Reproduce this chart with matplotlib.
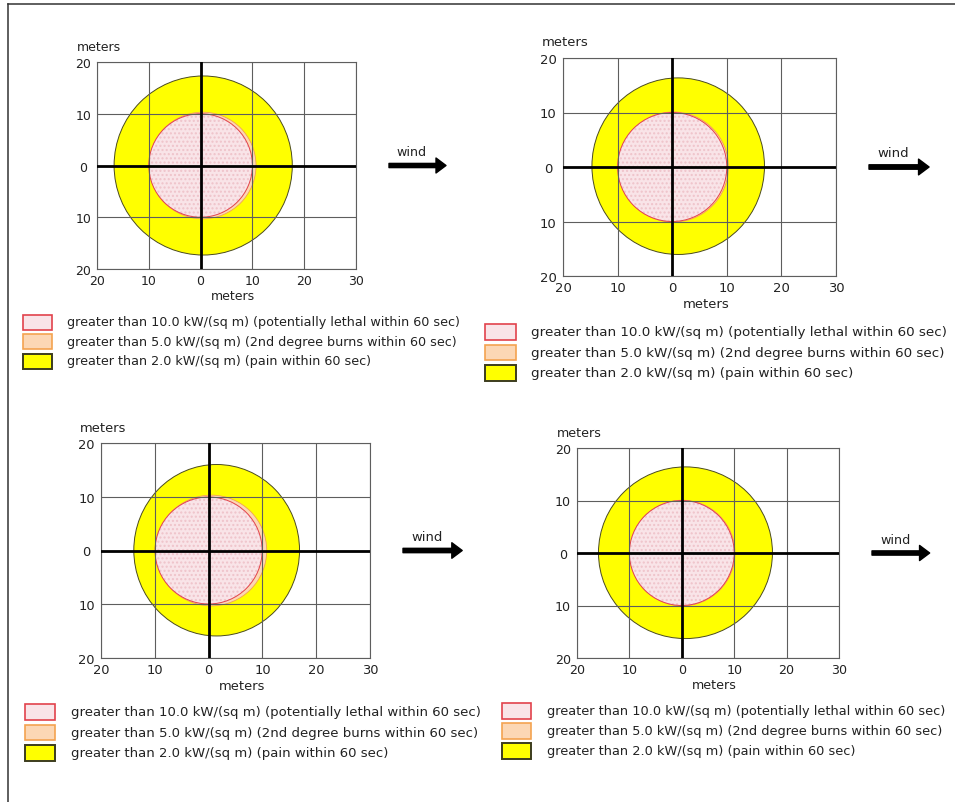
import matplotlib
matplotlib.use("Agg")
import matplotlib.pyplot as plt
from matplotlib.patches import Ellipse, Rectangle, FancyArrow
from matplotlib.transforms import Affine2D

# ---- data (meters) ----
x_ticks = [-20, -10, 0, 10, 20, 30]
x_tick_labels = ["20", "10", "0", "10", "20", "30"]
y_ticks = [-20, -10, 0, 10, 20]
y_tick_labels = ["20", "10", "0", "10", "20"]

# threat zones for each of the 4 runs
pain_cx = [0.5, 1.1, 1.5, 0.7]      # > 2.0 kW/(sq m)
pain_cy = [0.0, 0.15, 0.05, 0.05]
pain_rx = [17.2, 15.8, 15.4, 16.6]
pain_ry = [17.3, 16.2, 15.95, 16.35]
burn_cx = [0.4, 0.2, 0.5, 0.1]      # > 5.0 kW/(sq m)
burn_r = [10.3, 10.1, 10.3, 10.05]
lethal_r = [10.0, 10.0, 9.95, 10.0]  # > 10.0 kW/(sq m)

legend_labels = [
    "greater than 10.0 kW/(sq m) (potentially lethal within 60 sec)",
    "greater than 5.0 kW/(sq m) (2nd degree burns within 60 sec)",
    "greater than 2.0 kW/(sq m) (pain within 60 sec)",
]

# ---- layout (pixels) ----
W, H = 955, 803
boxes = [(97, 63, 356, 270), (563, 59, 836, 277), (101, 444, 370, 659), (577, 449, 839, 659)]
legend_xy = [(23, 323), (485, 333), (25, 713), (502, 712)]
row_gap = [19.5, 20.5, 20.5, 20.0]

YELLOW = "#ffff00"
PINK_FILL = "#f9e4e8"
PINK_DOT = "#efc3ca"
RED = "#e2424c"
ORANGE_FILL = "#fcd7b4"
ORANGE = "#f4a350"
GRID = "#5e5e5e"
TXT = "#222222"

fig = plt.figure(figsize=(W / 100, H / 100), dpi=100)
pix = Affine2D().scale(1 / W, -1 / H).translate(0, 1) + fig.transFigure

# frame on the left and top
fig.add_artist(plt.Line2D([7.5, 7.5], [4.5, H], transform=pix, color="#333333", lw=1.1))
fig.add_artist(plt.Line2D([7.5, W], [4.5, 4.5], transform=pix, color="#333333", lw=1.1))

for i, (x0, y0, x1, y1) in enumerate(boxes):
    s = (x1 - x0) / 259.0
    fs = 9.0 * s
    ax = fig.add_axes([x0 / W, 1 - y1 / H, (x1 - x0) / W, (y1 - y0) / H])
    ax.set_xlim(-20, 30)
    ax.set_ylim(-20, 20)

    ax.add_patch(Ellipse((pain_cx[i], pain_cy[i]), 2 * pain_rx[i], 2 * pain_ry[i],
                         facecolor=YELLOW, edgecolor="#4a4a20", lw=0.7, zorder=1))
    ax.add_patch(Ellipse((burn_cx[i], 0), 2 * burn_r[i], 2 * burn_r[i],
                         facecolor=ORANGE_FILL, edgecolor=ORANGE, lw=0.6, zorder=1.1))
    ax.add_patch(Ellipse((0, 0), 2 * lethal_r[i], 2 * lethal_r[i],
                         facecolor=PINK_FILL, edgecolor=PINK_DOT, hatch="....", lw=0, zorder=1.2))
    ax.add_patch(Ellipse((0, 0), 2 * lethal_r[i], 2 * lethal_r[i],
                         facecolor="none", edgecolor=RED, lw=0.7, zorder=1.3))

    ax.set_xticks(x_ticks)
    ax.set_xticklabels(x_tick_labels)
    ax.set_yticks(y_ticks)
    ax.set_yticklabels(y_tick_labels)
    ax.tick_params(length=0, labelsize=fs, colors=TXT)
    ax.tick_params(axis="x", pad=3.5 * s)
    ax.tick_params(axis="y", pad=10 * s)
    for lab in ax.get_yticklabels():
        lab.set_ha("center")

    ax.set_axisbelow(False)
    ax.grid(True, color=GRID, lw=0.8)
    for sp in ax.spines.values():
        sp.set_color(GRID)
        sp.set_linewidth(0.8)
    ax.axhline(0, color="black", lw=2.0, zorder=3)
    ax.axvline(0, color="black", lw=2.0, zorder=3)

    ax.set_xlabel("meters", fontsize=fs, color=TXT, va="center")
    ax.xaxis.set_label_coords(0.524, -0.128)
    ax.set_ylabel("meters", fontsize=fs, color=TXT, rotation=0, ha="center", va="center")
    ax.yaxis.set_label_coords(0.008, 1.074)

    # wind arrow
    ay = (y0 + y1) / 2
    ax0 = x1 + 33
    fig.add_artist(FancyArrow(ax0, ay, 47 * s, 0, width=4.2 * s, head_width=15 * s,
                              head_length=10 * s, length_includes_head=False,
                              transform=pix, facecolor="black", edgecolor="black",
                              lw=1.0, joinstyle="round", capstyle="round"))
    fig.text(ax0 + 23 * s, ay - 13.5 * s, "wind", transform=pix, fontsize=9.1 * s,
             ha="center", va="center", color=TXT)

    # legend
    lx, ly = legend_xy[i]
    pw, ph = 29 * s, 15 * s
    styles = [
        dict(facecolor=PINK_FILL, edgecolor=RED, lw=1.2),
        dict(facecolor=ORANGE_FILL, edgecolor=ORANGE, lw=1.2),
        dict(facecolor=YELLOW, edgecolor="#3c3c1e", lw=1.4),
    ]
    for k, lab in enumerate(legend_labels):
        cy = ly + k * row_gap[i]
        fig.add_artist(Rectangle((lx, cy - ph / 2), pw, ph, transform=pix, **styles[k]))
        fig.text(lx + 44 * s, cy, lab, transform=pix, fontsize=9.2 * s,
                 ha="left", va="center", color=TXT)

fig.savefig("out.png", dpi=100, facecolor="white")
